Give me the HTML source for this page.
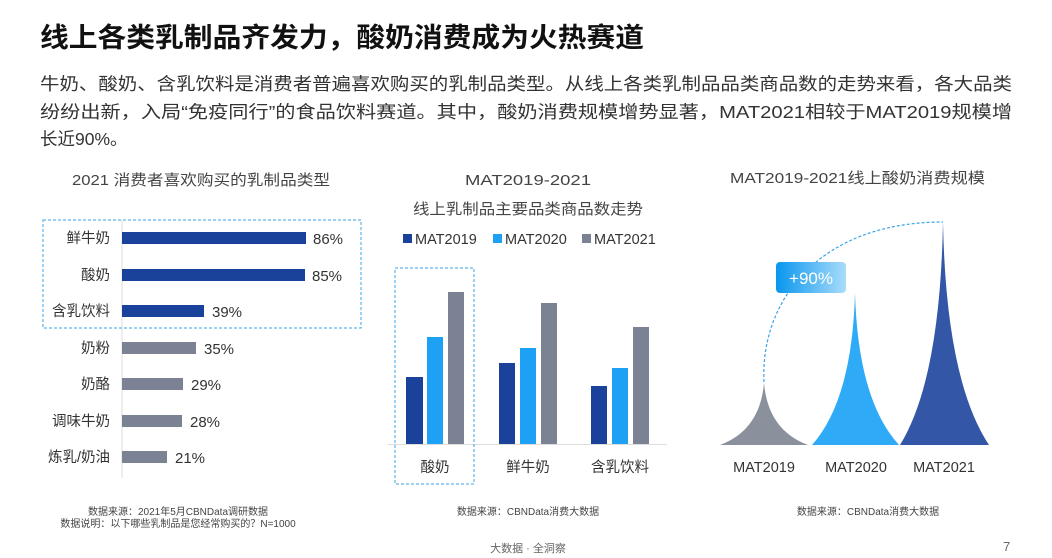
<!DOCTYPE html>
<html><head><meta charset="utf-8"><style>
body{margin:0;background:#fff;}
svg{display:block;font-family:"Liberation Sans","Noto Sans CJK SC",sans-serif;}
</style></head><body>
<svg width="1052" height="558" viewBox="0 0 1052 558" xmlns="http://www.w3.org/2000/svg">
<defs>
<linearGradient id="bg" x1="0" x2="1"><stop offset="0" stop-color="#0896ee"/><stop offset="1" stop-color="#a9dcfb"/></linearGradient>
</defs>
<text x="40" y="47" font-size="27" font-weight="bold" fill="#111" textLength="604" lengthAdjust="spacingAndGlyphs">线上各类乳制品齐发力，酸奶消费成为火热赛道</text>
<g font-size="17.5" fill="#333">
<text x="40" y="90" textLength="972" lengthAdjust="spacingAndGlyphs">牛奶、酸奶、含乳饮料是消费者普遍喜欢购买的乳制品类型。从线上各类乳制品品类商品数的走势来看，各大品类</text>
<text x="40" y="118" textLength="972" lengthAdjust="spacingAndGlyphs">纷纷出新，入局“免疫同行”的食品饮料赛道。其中，酸奶消费规模增势显著，MAT2021相较于MAT2019规模增</text>
<text x="40" y="145">长近90%。</text>
</g>
<g font-size="15" fill="#444">
<text x="72" y="185" textLength="258" lengthAdjust="spacingAndGlyphs">2021 消费者喜欢购买的乳制品类型</text>
<text x="465" y="185" textLength="126" lengthAdjust="spacingAndGlyphs">MAT2019-2021</text>
<text x="413" y="214" textLength="230" lengthAdjust="spacingAndGlyphs">线上乳制品主要品类商品数走势</text>
<text x="730" y="183" textLength="255" lengthAdjust="spacingAndGlyphs">MAT2019-2021线上酸奶消费规模</text>
</g>
<!-- left chart -->
<line x1="122" y1="220" x2="122" y2="478" stroke="#ddd" stroke-width="1"/>
<rect x="43" y="220" width="318" height="108" fill="none" stroke="#3aa3e8" stroke-width="1" stroke-dasharray="3,2"/>
<g fill="#1b429a">
<rect x="122" y="232" width="184" height="12"/>
<rect x="122" y="269" width="183" height="12"/>
<rect x="122" y="305" width="82" height="12"/>
</g>
<g fill="#7a8294">
<rect x="122" y="342" width="74" height="12"/>
<rect x="122" y="378" width="61" height="12"/>
<rect x="122" y="415" width="60" height="12"/>
<rect x="122" y="451" width="45" height="12"/>
</g>
<g font-size="14.5" fill="#333" text-anchor="end">
<text x="110" y="243">鲜牛奶</text>
<text x="110" y="280">酸奶</text>
<text x="110" y="316">含乳饮料</text>
<text x="110" y="353">奶粉</text>
<text x="110" y="389">奶酪</text>
<text x="110" y="426">调味牛奶</text>
<text x="110" y="462">炼乳/奶油</text>
</g>
<g font-size="15" fill="#333">
<text x="313" y="244">86%</text>
<text x="312" y="281">85%</text>
<text x="212" y="317">39%</text>
<text x="204" y="354">35%</text>
<text x="191" y="390">29%</text>
<text x="190" y="427">28%</text>
<text x="175" y="463">21%</text>
</g>
<!-- middle chart -->
<g font-size="14.5" fill="#333">
<rect x="403" y="234" width="9" height="9" fill="#1b429a"/><text x="415" y="244">MAT2019</text>
<rect x="493" y="234" width="9" height="9" fill="#1ea1f5"/><text x="505" y="244">MAT2020</text>
<rect x="582" y="234" width="9" height="9" fill="#7a8294"/><text x="594" y="244">MAT2021</text>
</g>
<line x1="388" y1="444.5" x2="667" y2="444.5" stroke="#ddd"/>
<rect x="395" y="268" width="79" height="216" fill="none" stroke="#3aa3e8" stroke-dasharray="3,2"/>
<g fill="#1b429a"><rect x="406" y="377" width="17" height="67"/><rect x="499" y="363" width="16" height="81"/><rect x="591" y="386" width="16" height="58"/></g>
<g fill="#1ea1f5"><rect x="427" y="337" width="16" height="107"/><rect x="520" y="348" width="16" height="96"/><rect x="612" y="368" width="16" height="76"/></g>
<g fill="#7a8294"><rect x="448" y="292" width="16" height="152"/><rect x="541" y="303" width="16" height="141"/><rect x="633" y="327" width="16" height="117"/></g>
<g font-size="14.5" fill="#333" text-anchor="middle">
<text x="435" y="472">酸奶</text><text x="528" y="472">鲜牛奶</text><text x="620" y="472">含乳饮料</text>
</g>
<!-- right chart -->
<path d="M764 382 C 760 300, 820 222, 943 222" fill="none" stroke="#3aa3e8" stroke-width="1.2" stroke-dasharray="3,2"/>
<path d="M720 445 Q 760 430 764 383 Q 768 430 808 445 Z" fill="#8a909c"/>
<path d="M812 445 Q 852 400 855 293 Q 858 400 899 445 Z" fill="#2eaaf7"/>
<path d="M900 445 Q 940 380 943 222 Q 946 380 989 445 Z" fill="#3357a6"/>
<rect x="776" y="262" width="70" height="31" rx="4" fill="url(#bg)"/>
<text x="811" y="284" font-size="17" fill="#fff" text-anchor="middle">+90%</text>
<g font-size="14.5" fill="#333" text-anchor="middle">
<text x="764" y="472">MAT2019</text><text x="856" y="472">MAT2020</text><text x="944" y="472">MAT2021</text>
</g>
<!-- footers -->
<g font-size="10" fill="#444" text-anchor="middle">
<text x="178" y="515">数据来源：2021年5月CBNData调研数据</text>
<text x="178" y="527">数据说明：以下哪些乳制品是您经常购买的？N=1000</text>
<text x="528" y="515">数据来源：CBNData消费大数据</text>
<text x="868" y="515">数据来源：CBNData消费大数据</text>
<text x="528" y="552" font-size="11" fill="#666">大数据 · 全洞察</text>
</g>
<text x="1003" y="551" font-size="13" fill="#666">7</text>
</svg>
</body></html>
